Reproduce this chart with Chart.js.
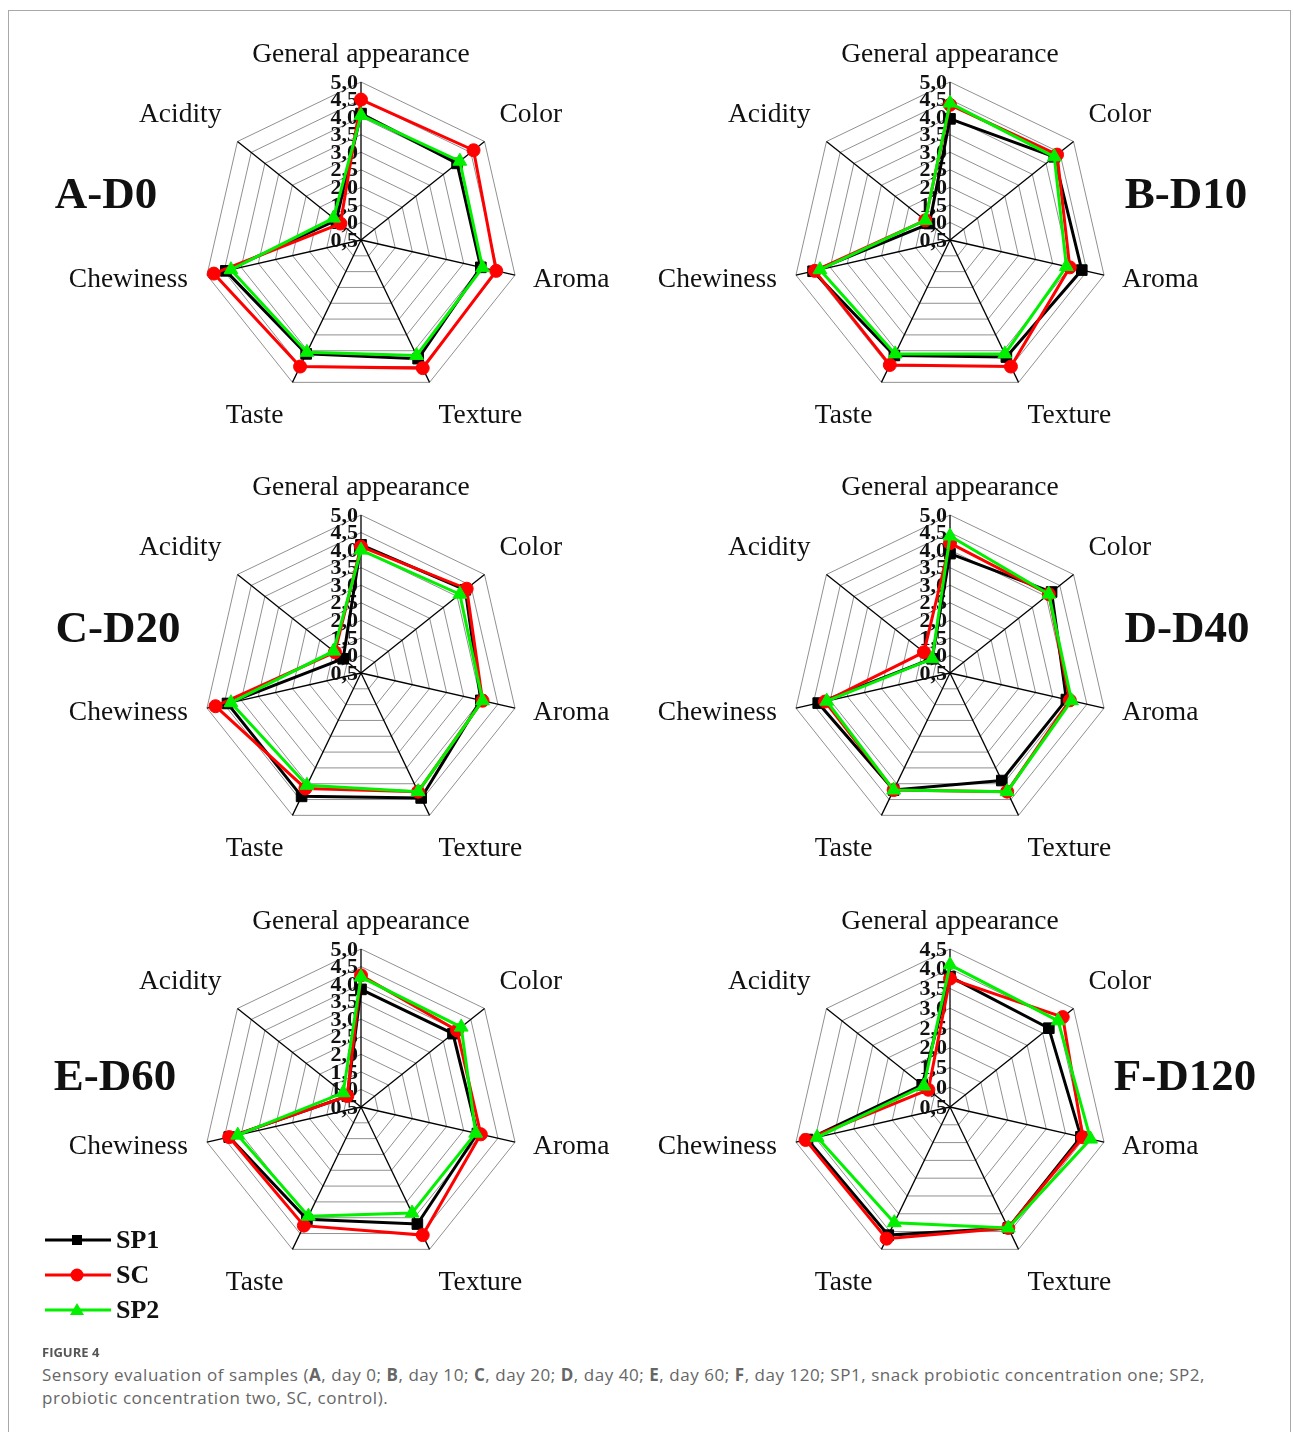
<!DOCTYPE html>
<html>
<head>
<meta charset="utf-8">
<script src="https://cdn.jsdelivr.net/npm/chart.js@4.4.1/dist/chart.umd.min.js"></script>
<style>
  body { margin:0; background:#fff; }
  #frame { position:absolute; left:8px; top:10px; width:1283px; height:1440px; border:1px solid #a8a8a8; box-sizing:border-box; }
  canvas.radar { position:absolute; }
  .ptitle { position:absolute; font:bold 45px "Liberation Serif", serif; color:#111; transform:translate(-50%,-50%); white-space:nowrap; }
  .leg { position:absolute; left:44px; height:30px; display:flex; align-items:center; }
  .leg span { font:bold 26px "Liberation Serif", serif; color:#111; margin-left:4px; }
  #figno { position:absolute; left:42px; top:1343px; font:bold 13px "Open Sans", sans-serif; color:#555; }
  #caption { position:absolute; left:42px; top:1363px; font:17px "Open Sans", sans-serif; letter-spacing:0.55px; color:#666; line-height:23px; white-space:nowrap; }
</style>
</head>
<body>
<div id="frame"></div>

<canvas class="radar" id="cA" width="620" height="434"></canvas>
<canvas class="radar" id="cB" width="620" height="434"></canvas>
<canvas class="radar" id="cC" width="620" height="434"></canvas>
<canvas class="radar" id="cD" width="620" height="434"></canvas>
<canvas class="radar" id="cE" width="620" height="434"></canvas>
<canvas class="radar" id="cF" width="620" height="434"></canvas>

<div class="ptitle" style="left:106px;top:193px">A-D0</div>
<div class="ptitle" style="left:1186px;top:193px">B-D10</div>
<div class="ptitle" style="left:118px;top:627px">C-D20</div>
<div class="ptitle" style="left:1187px;top:627px">D-D40</div>
<div class="ptitle" style="left:115px;top:1075px">E-D60</div>
<div class="ptitle" style="left:1185px;top:1075px">F-D120</div>

<div class="leg" style="top:1225px">
  <svg width="68" height="20"><line x1="1" y1="10" x2="67" y2="10" stroke="#000" stroke-width="3"/><rect x="28" y="5" width="10" height="10" fill="#000"/></svg><span>SP1</span>
</div>
<div class="leg" style="top:1260px">
  <svg width="68" height="20"><line x1="1" y1="10" x2="67" y2="10" stroke="#ff0000" stroke-width="3"/><circle cx="33" cy="10" r="6.5" fill="#ff0000"/></svg><span>SC</span>
</div>
<div class="leg" style="top:1295px">
  <svg width="68" height="20"><line x1="1" y1="10" x2="67" y2="10" stroke="#00f000" stroke-width="3"/><polygon points="33,3 40,15 26,15" fill="#00f000"/></svg><span>SP2</span>
</div>

<div id="figno">FIGURE 4</div>
<div id="caption">Sensory evaluation of samples (<b>A</b>, day 0; <b>B</b>, day 10; <b>C</b>, day 20; <b>D</b>, day 40; <b>E</b>, day 60; <b>F</b>, day 120; SP1, snack probiotic concentration one; SP2,<br>probiotic concentration two, SC, control).</div>

<script>
// ---- data ----
const AXES = ['General appearance', 'Color', 'Aroma', 'Texture', 'Taste', 'Chewiness', 'Acidity'];
const SERIES = ['SP1', 'SC', 'SP2'];
const TICK_MIN = 0.5;
const TICK_STEP = 0.5;
const MAX_ABCDE = 5.0;
const MAX_F = 4.5;

// A - day 0
const A_SP1 = [4.1, 4.0, 4.0, 4.25, 4.1, 4.45, 1.4];
const A_SC  = [4.5, 4.6, 4.45, 4.55, 4.5, 4.8, 1.25];
const A_SP2 = [4.05, 4.1, 4.05, 4.15, 4.05, 4.3, 1.5];
// B - day 10
const B_SP1 = [3.95, 4.3, 4.35, 4.2, 4.15, 4.5, 1.25];
const B_SC  = [4.35, 4.4, 4.0, 4.5, 4.45, 4.45, 1.4];
const B_SP2 = [4.4, 4.3, 3.9, 4.1, 4.1, 4.3, 1.4];
// C - day 20
const C_SP1 = [4.15, 4.3, 4.0, 4.45, 4.4, 4.4, 1.15];
const C_SC  = [4.1, 4.35, 4.05, 4.25, 4.15, 4.75, 1.45];
const C_SP2 = [4.0, 4.1, 4.05, 4.25, 4.05, 4.3, 1.5];
// D - day 40
const D_SP1 = [3.9, 4.2, 3.9, 3.9, 4.2, 4.35, 1.15];
const D_SC  = [4.2, 4.1, 4.0, 4.25, 4.2, 4.15, 1.45];
const D_SP2 = [4.4, 4.1, 4.05, 4.25, 4.2, 4.1, 1.15];
// E - day 60
const E_SP1 = [3.85, 3.85, 3.9, 4.2, 4.05, 4.35, 1.0];
const E_SC  = [4.25, 4.0, 4.0, 4.55, 4.25, 4.35, 1.0];
const E_SP2 = [4.2, 4.15, 3.85, 3.85, 3.95, 4.1, 1.15];
// F - day 120
const F_SP1 = [3.8, 3.7, 3.9, 3.9, 4.1, 4.2, 1.4];
const F_SC  = [3.75, 4.15, 3.95, 3.9, 4.2, 4.25, 1.2];
const F_SP2 = [4.1, 4.0, 4.15, 3.9, 3.75, 3.95, 1.35];

// ---- layout ----
const CW = 620, CH = 434, AREA = 316;
const PADX = (CW - AREA) / 2, PADY = (CH - AREA) / 2;
// label placement relative to each axis end point
const LABEL_POS = [
  {align:'center', dx:0,   dy:-27},
  {align:'left',   dx:15,  dy:-27},
  {align:'left',   dx:18,  dy:5},
  {align:'left',   dx:9,   dy:33},
  {align:'right',  dx:-9,  dy:33},
  {align:'right',  dx:-19, dy:5},
  {align:'right',  dx:-16, dy:-27},
];
const fmtTick = v => v.toFixed(1).replace('.', ',');

const panelText = {
  id: 'panelText',
  beforeDatasetsDraw(chart) {
    const s = chart.scales.r, ctx = chart.ctx;
    ctx.save();
    ctx.fillStyle = '#111';
    ctx.font = 'bold 22px "Liberation Serif"';
    ctx.textAlign = 'right';
    ctx.textBaseline = 'middle';
    s.ticks.forEach(t => {
      ctx.fillText(fmtTick(t.value), s.xCenter - 3, s.yCenter - s.getDistanceFromCenterForValue(t.value) + 1);
    });
    ctx.font = '27.5px "Liberation Serif"';
    AXES.forEach((name, i) => {
      const p = s.getPointPosition(i, s.drawingArea);
      const o = LABEL_POS[i];
      ctx.textAlign = o.align;
      ctx.fillText(name, p.x + o.dx, p.y + o.dy);
    });
    ctx.restore();
  }
};

function makeRadar(id, cx, cy, sp1, sc, sp2, maxV) {
  const el = document.getElementById(id);
  el.style.left = (cx - CW / 2) + 'px';
  el.style.top = (cy - CH / 2) + 'px';
  const ds = (label, data, color, style, radius, order) => ({
    label, data, order, clip: false,
    borderColor: color, backgroundColor: color, borderWidth: 3, fill: false,
    pointStyle: style, pointRadius: radius, pointBackgroundColor: color,
    pointBorderColor: color, pointBorderWidth: 1, pointHoverRadius: radius
  });
  return new Chart(el, {
    type: 'radar',
    data: {
      labels: AXES,
      datasets: [
        ds(SERIES[0], sp1, '#000000', 'rect', 7.5, 3),
        ds(SERIES[1], sc, '#ff0000', 'circle', 6.5, 2),
        ds(SERIES[2], sp2, '#00f000', 'triangle', 8, 1),
      ]
    },
    options: {
      responsive: false, animation: false,
      layout: { padding: { left: PADX, right: PADX, top: PADY, bottom: PADY } },
      plugins: { legend: { display: false }, tooltip: { enabled: false } },
      elements: { line: { tension: 0 } },
      scales: {
        r: {
          min: TICK_MIN, max: maxV,
          ticks: { stepSize: TICK_STEP, display: false },
          grid: { circular: false, color: '#909090', lineWidth: 1 },
          angleLines: { color: '#000', lineWidth: 1.3 },
          pointLabels: { display: false }
        }
      }
    },
    plugins: [panelText]
  });
}

makeRadar('cA', 361, 240, A_SP1, A_SC, A_SP2, MAX_ABCDE);
makeRadar('cB', 950, 240, B_SP1, B_SC, B_SP2, MAX_ABCDE);
makeRadar('cC', 361, 673, C_SP1, C_SC, C_SP2, MAX_ABCDE);
makeRadar('cD', 950, 673, D_SP1, D_SC, D_SP2, MAX_ABCDE);
makeRadar('cE', 361, 1107, E_SP1, E_SC, E_SP2, MAX_ABCDE);
makeRadar('cF', 950, 1107, F_SP1, F_SC, F_SP2, MAX_F);
</script>
</body>
</html>
